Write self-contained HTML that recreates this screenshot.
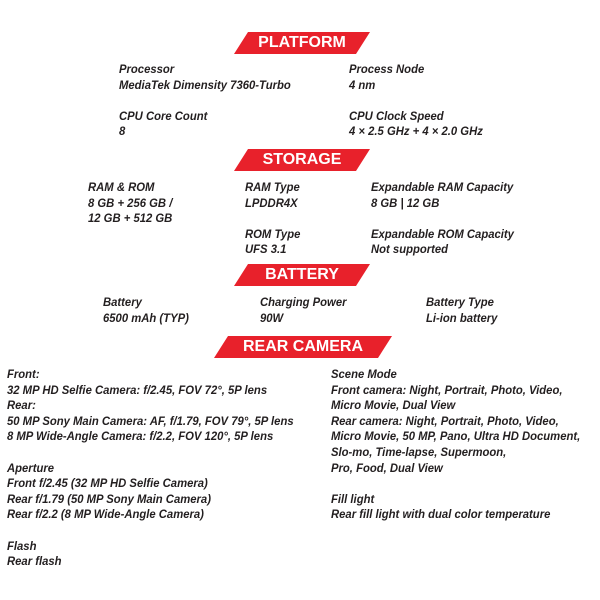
<!DOCTYPE html>
<html><head><meta charset="utf-8"><style>
html,body{margin:0;padding:0;background:#fff;width:600px;height:600px;overflow:hidden;position:relative}
.t{position:absolute;font-family:"Liberation Sans",sans-serif;font-style:italic;font-weight:bold;font-size:12px;line-height:15.6px;color:#231f20;white-space:nowrap;transform:scaleX(0.94);transform-origin:0 0}
.b{position:absolute;height:22px}
.b svg{position:absolute;left:0;top:0}
.b span{position:absolute;left:0;right:0;top:0;text-align:center;font-family:"Liberation Sans",sans-serif;font-weight:bold;font-size:16px;line-height:22px;color:#fff}
</style></head><body>
<div class="b" style="left:234px;top:32px;width:136px"><svg width="136" height="22"><polygon points="14,0 136,0 122,22 0,22" fill="#e8212b"/></svg><span>PLATFORM</span></div>
<div class="t" style="left:119px;top:62px">Processor<br>MediaTek Dimensity 7360-Turbo<br><br>CPU Core Count<br>8</div>
<div class="t" style="left:349px;top:62px">Process Node<br>4 nm<br><br>CPU Clock Speed<br>4 × 2.5 GHz + 4 × 2.0 GHz</div>

<div class="b" style="left:234px;top:149px;width:136px"><svg width="136" height="22"><polygon points="14,0 136,0 122,22 0,22" fill="#e8212b"/></svg><span>STORAGE</span></div>
<div class="t" style="left:88px;top:180px">RAM &amp; ROM<br>8 GB + 256 GB /<br>12 GB + 512 GB</div>
<div class="t" style="left:245px;top:180px">RAM Type<br>LPDDR4X<br><br>ROM Type<br>UFS 3.1</div>
<div class="t" style="left:371px;top:180px">Expandable RAM Capacity<br>8 GB | 12 GB<br><br>Expandable ROM Capacity<br>Not supported</div>

<div class="b" style="left:234px;top:264px;width:136px"><svg width="136" height="22"><polygon points="14,0 136,0 122,22 0,22" fill="#e8212b"/></svg><span>BATTERY</span></div>
<div class="t" style="left:103px;top:295px">Battery<br>6500 mAh (TYP)</div>
<div class="t" style="left:260px;top:295px">Charging Power<br>90W</div>
<div class="t" style="left:426px;top:295px">Battery Type<br>Li-ion battery</div>

<div class="b" style="left:214px;top:336px;width:178px"><svg width="178" height="22"><polygon points="14,0 178,0 164,22 0,22" fill="#e8212b"/></svg><span>REAR CAMERA</span></div>
<div class="t" style="left:7px;top:367px">Front:<br>32 MP HD Selfie Camera: f/2.45, FOV 72°, 5P lens<br>Rear:<br>50 MP Sony Main Camera: AF, f/1.79, FOV 79°, 5P lens<br>8 MP Wide-Angle Camera: f/2.2, FOV 120°, 5P lens<br><br>Aperture<br>Front f/2.45 (32 MP HD Selfie Camera)<br>Rear f/1.79 (50 MP Sony Main Camera)<br>Rear f/2.2 (8 MP Wide-Angle Camera)<br><br>Flash<br>Rear flash</div>
<div class="t" style="left:331px;top:367px">Scene Mode<br>Front camera: Night, Portrait, Photo, Video,<br>Micro Movie, Dual View<br>Rear camera: Night, Portrait, Photo, Video,<br>Micro Movie, 50 MP, Pano, Ultra HD Document,<br>Slo-mo, Time-lapse, Supermoon,<br>Pro, Food, Dual View<br><br>Fill light<br>Rear fill light with dual color temperature</div>
</body></html>
